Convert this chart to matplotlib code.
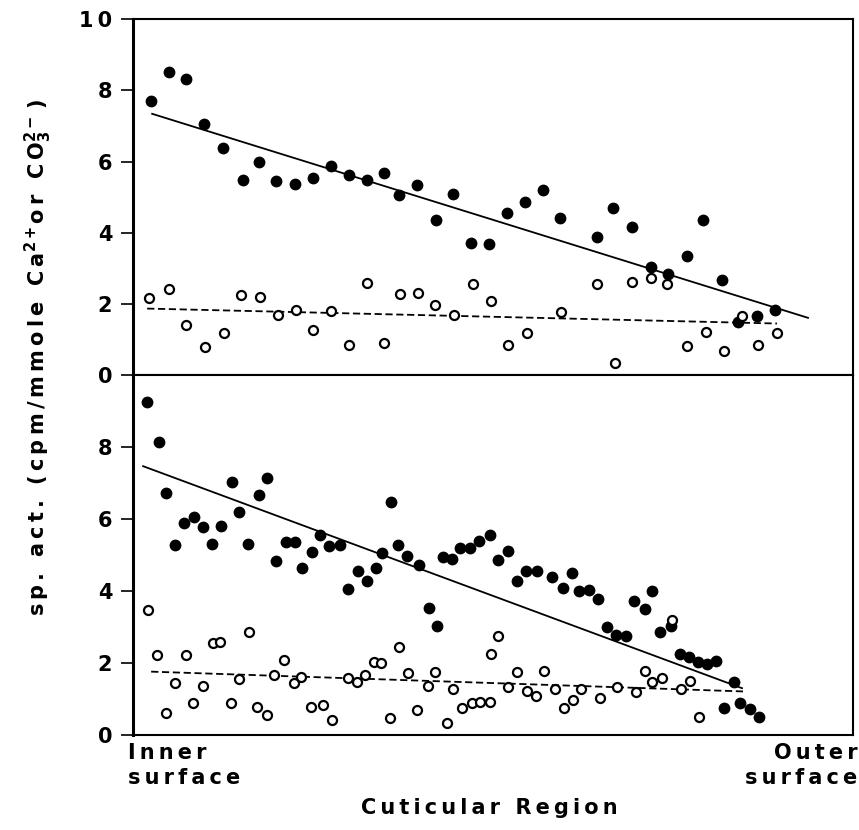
import matplotlib
matplotlib.use("Agg")
import matplotlib.pyplot as plt

plt.rcParams['font.family'] = ['DejaVu Sans']
plt.rcParams['mathtext.default'] = 'bf'

# position along the cuticle (0 = inner surface, 720 = outer surface)
top_fill_x = [18, 36, 53, 71, 90, 110, 126, 143, 162, 180, 198, 216, 234, 251, 266, 284,
              303, 320, 338, 356, 374, 392, 410, 427, 464, 480, 499, 518, 535, 554, 570,
              589, 605, 624, 642]
top_fill_y = [7.70, 8.52, 8.31, 7.05, 6.38, 5.48, 5.98, 5.45, 5.36, 5.55, 5.88, 5.62, 5.47,
              5.69, 5.05, 5.33, 4.36, 5.08, 3.70, 3.69, 4.56, 4.87, 5.19, 4.41, 3.87, 4.70,
              4.16, 3.05, 2.85, 3.34, 4.35, 2.66, 1.50, 1.66, 1.83]
top_open_x = [16, 36, 53, 72, 91, 108, 127, 145, 163, 180, 198, 216, 234, 251, 267, 285,
              302, 321, 340, 358, 375, 394, 428, 464, 482, 499, 518, 534, 554, 573, 591,
              609, 625, 644]
top_open_y = [2.16, 2.42, 1.40, 0.79, 1.19, 2.25, 2.19, 1.69, 1.82, 1.26, 1.81, 0.84, 2.58,
              0.90, 2.27, 2.30, 1.96, 1.68, 2.55, 2.08, 0.84, 1.19, 1.78, 2.55, 0.34, 2.63,
              2.72, 2.55, 0.82, 1.21, 0.67, 1.66, 0.84, 1.19]
top_fit_x = [19, 675]
top_fit_y = [7.34, 1.61]
top_dash_x = [14, 644]
top_dash_y = [1.87, 1.45]

bot_fill_x = [14, 26, 33, 42, 51, 61, 70, 79, 88, 99, 106, 115, 126, 134, 143, 153, 162,
              169, 179, 187, 196, 207, 215, 225, 234, 243, 249, 258, 265, 274, 286, 296,
              304, 310, 319, 327, 337, 346, 357, 365, 375, 384, 393, 404, 419, 430, 439,
              446, 456, 465, 474, 483, 493, 501, 512, 519, 527, 538, 547, 556, 565, 574,
              583, 601, 591, 607, 617, 626]
bot_fill_y = [9.26, 8.13, 6.73, 5.27, 5.90, 6.06, 5.79, 5.31, 5.81, 7.03, 6.19, 5.31, 6.67,
              7.13, 4.83, 5.35, 5.35, 4.63, 5.08, 5.56, 5.25, 5.27, 4.07, 4.55, 4.29, 4.64,
              5.05, 6.48, 5.27, 4.98, 4.73, 3.53, 3.03, 4.95, 4.89, 5.20, 5.21, 5.40, 5.56,
              4.85, 5.11, 4.29, 4.55, 4.57, 4.38, 4.09, 4.50, 3.99, 4.04, 3.78, 3.00, 2.79,
              2.74, 3.71, 3.51, 4.01, 2.86, 3.03, 2.25, 2.16, 2.02, 1.97, 2.06, 1.47, 0.74,
              0.88, 0.72, 0.49]
bot_open_x = [15, 24, 33, 42, 53, 60, 70, 80, 87, 98, 106, 116, 124, 134, 141, 151, 161,
              168, 178, 190, 199, 215, 224, 232, 241, 248, 257, 266, 275, 284, 295, 302,
              314, 320, 329, 339, 347, 357, 358, 365, 375, 384, 394, 403, 411, 422, 431,
              440, 448, 467, 484, 503, 512, 519, 529, 539, 548, 557, 566]
bot_open_y = [3.46, 2.23, 0.62, 1.44, 2.23, 0.90, 1.35, 2.55, 2.57, 0.90, 1.56, 2.85, 0.79,
              0.55, 1.67, 2.09, 1.44, 1.62, 0.79, 0.82, 0.42, 1.58, 1.47, 1.67, 2.04, 2.00,
              0.46, 2.44, 1.72, 0.70, 1.35, 1.75, 0.33, 1.27, 0.74, 0.88, 0.93, 0.93, 2.25,
              2.74, 1.33, 1.76, 1.23, 1.09, 1.79, 1.27, 0.74, 0.97, 1.27, 1.02, 1.33, 1.19,
              1.79, 1.48, 1.58, 3.20, 1.27, 1.50, 0.51]
bot_fit_x = [10, 609]
bot_fit_y = [7.47, 1.30]
bot_dash_x = [18, 610]
bot_dash_y = [1.76, 1.21]

top_ticks = [0, 2, 4, 6, 8, 10]
bot_ticks = [0, 2, 4, 6, 8]

ESP = '\u2009'


def espaciar(texto):
    # letras separadas como en la figura original
    return ESP.join(texto)


def dibujarPanel(ax, fx, fy, ox, oy, lx, ly, dx, dy, ticks):
    ax.plot(lx, ly, color='black', lw=1.3)
    ax.plot(dx, dy, color='black', lw=1.3, dashes=(4, 2))
    ax.plot(fx, fy, 'o', color='black', ms=8.5, mew=0)
    ax.plot(ox, oy, 'o', mfc='white', mec='black', ms=6.5, mew=1.6)
    ax.set_xlim(0, 720)
    ax.set_ylim(0, 10)
    ax.set_xticks([])
    ax.set_yticks(ticks)
    ax.set_yticklabels([espaciar(str(t)) for t in ticks], fontsize=15, fontweight='bold')
    ax.tick_params(axis='y', direction='out', length=9, width=1.2, pad=6)
    for lado in ['top', 'right', 'bottom']:
        ax.spines[lado].set_linewidth(1.5)
    ax.spines['left'].set_linewidth(2.2)


fig = plt.figure(figsize=(8.59, 8.30), dpi=100)
axTop = fig.add_axes([0.155, 0.548, 0.838, 0.429])
axBot = fig.add_axes([0.155, 0.1145, 0.838, 0.4335])

dibujarPanel(axTop, top_fill_x, top_fill_y, top_open_x, top_open_y,
             top_fit_x, top_fit_y, top_dash_x, top_dash_y, top_ticks)
dibujarPanel(axBot, bot_fill_x, bot_fill_y, bot_open_x, bot_open_y,
             bot_fit_x, bot_fit_y, bot_dash_x, bot_dash_y, bot_ticks)

etiquetaY = (espaciar('sp. act. (cpm/mmole Ca') + '$^{2+}$' + espaciar('or CO')
             + '$_3^{2-}$' + ESP + ')')
fig.text(0.045, 0.57, etiquetaY, rotation=90, ha='center', va='center',
         fontsize=15, fontweight='bold')
fig.text(0.149, 0.105, espaciar('Inner') + '\n' + espaciar('surface'), ha='left', va='top',
         fontsize=15, fontweight='bold', linespacing=1.3)
fig.text(0.998, 0.105, espaciar('Outer') + '\n' + espaciar('surface'), ha='right', va='top',
         fontsize=15, fontweight='bold', linespacing=1.3)
fig.text(0.57, 0.015, espaciar('Cuticular Region'), ha='center', va='bottom', fontsize=15,
         fontweight='bold')

fig.savefig('out.png', dpi=100)
